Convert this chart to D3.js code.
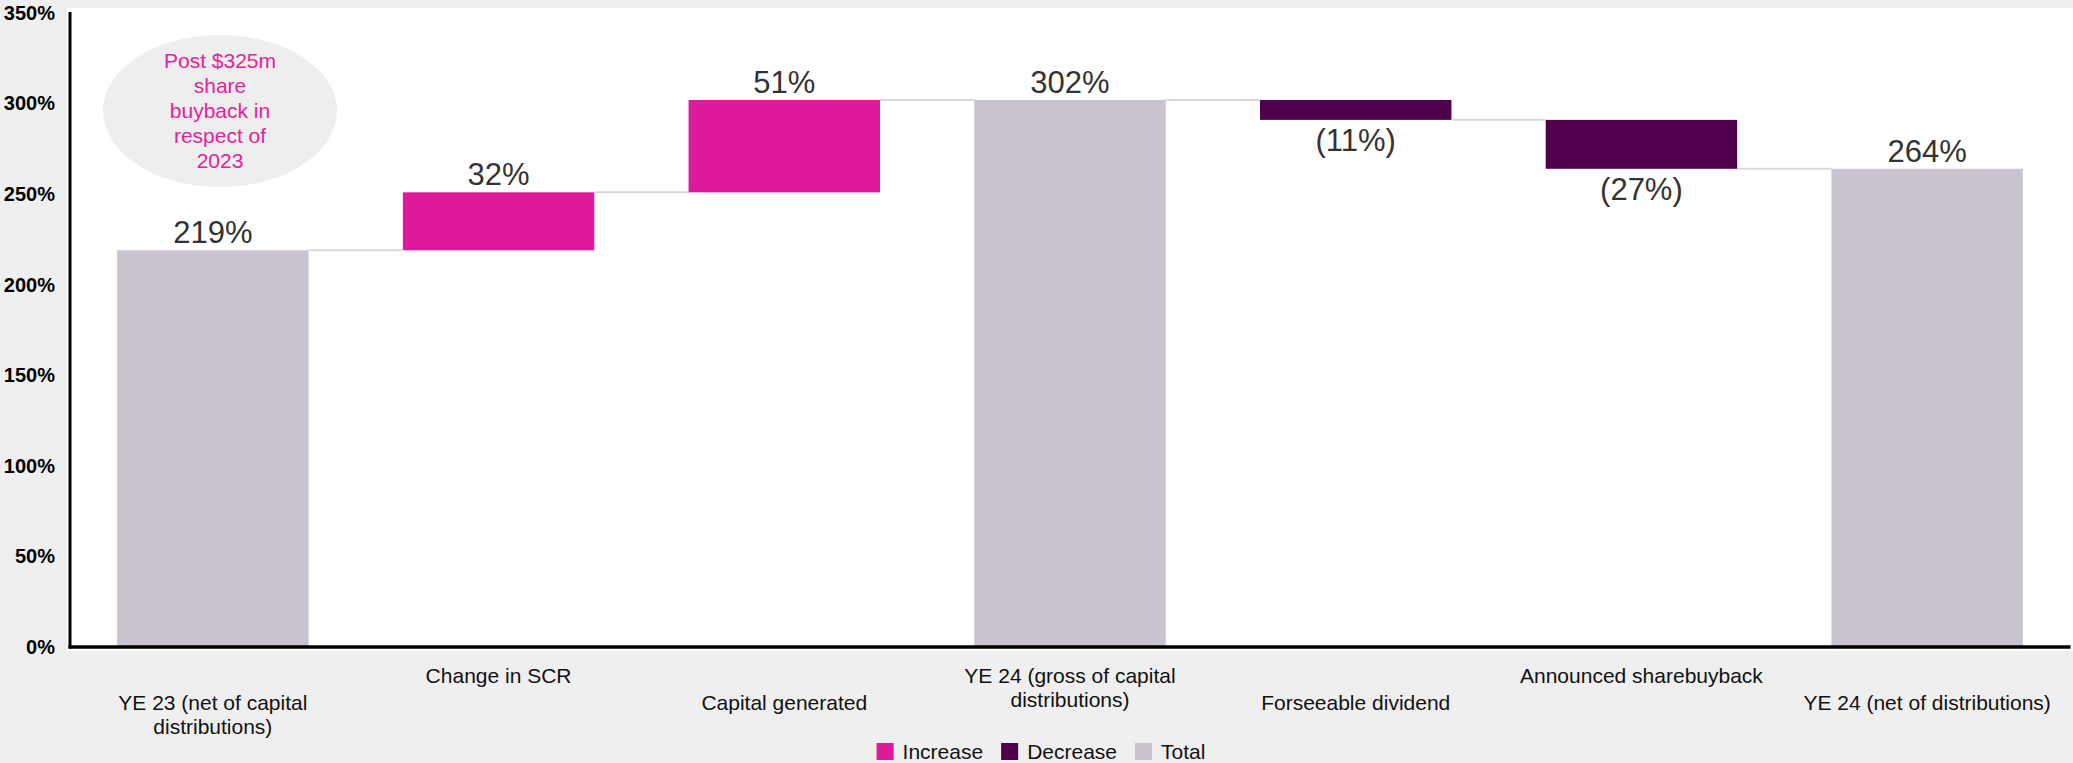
<!DOCTYPE html>
<html>
<head>
<meta charset="utf-8">
<script src="https://cdn.jsdelivr.net/npm/d3@7"></script>
<style>
  html, body { margin: 0; padding: 0; background: #efefef; }
  svg { display: block; }
  text { font-family: "Liberation Sans", Arial, sans-serif; }
</style>
</head>
<body>
<svg id="chart" width="2073" height="763"></svg>
<script>
// Solvency ratio bridge, YE 23 to YE 24
const categories = [
  "YE 23 (net of capital distributions)",
  "Change in SCR",
  "Capital generated",
  "YE 24 (gross of capital distributions)",
  "Forseeable dividend",
  "Announced sharebuyback",
  "YE 24 (net of distributions)"
];
const values = [219, 32, 51, 302, -11, -27, 264];
const kinds = ["total", "increase", "increase", "total", "decrease", "decrease", "total"];
const valueLabels = ["219%", "32%", "51%", "302%", "(11%)", "(27%)", "264%"];
const yTicks = [0, 50, 100, 150, 200, 250, 300, 350];
const legendItems = ["Increase", "Decrease", "Total"];
const noteLines = ["Post $325m", "share", "buyback in", "respect of", "2023"];

const colors = { increase: "#dc1a9a", decrease: "#4e004c", total: "#c8c3cf" };
const legendKinds = { Increase: "increase", Decrease: "decrease", Total: "total" };

const svg = d3.select("#chart");
const W = 2073, H = 763;
const mLeft = 70, mRight = 2070, mTop = 13, mBottom = 647;

// build running totals for the waterfall
let running = 0;
const bars = values.map((v, i) => {
  let start, end;
  if (kinds[i] === "total") { start = 0; end = v; }
  else { start = running; end = running + v; }
  running = end;
  return { cat: categories[i], kind: kinds[i], start, end, label: valueLabels[i], v };
});

const x = d3.scaleBand().domain(categories).range([mLeft, mRight])
  .paddingInner(0.33).paddingOuter(0.165);
const y = d3.scaleLinear().domain([0, 350]).range([mBottom, mTop]);

// plot background
svg.append("rect").attr("x", 67).attr("y", 8).attr("width", W - 67).attr("height", 651 - 8)
  .attr("fill", "#ffffff");

// connectors between consecutive bars
const conn = svg.append("g");
bars.slice(0, -1).forEach((b, i) => {
  const nxt = bars[i + 1];
  conn.append("line")
    .attr("x1", x(b.cat) + x.bandwidth())
    .attr("x2", x(nxt.cat))
    .attr("y1", y(b.end)).attr("y2", y(b.end))
    .attr("stroke", "#d9d9d9").attr("stroke-width", 2);
});

// bars
svg.append("g").selectAll("rect").data(bars).join("rect")
  .attr("x", d => x(d.cat))
  .attr("width", x.bandwidth())
  .attr("y", d => y(Math.max(d.start, d.end)))
  .attr("height", d => Math.abs(y(d.start) - y(d.end)))
  .attr("fill", d => colors[d.kind]);

// value labels
svg.append("g").selectAll("text").data(bars).join("text")
  .attr("x", d => x(d.cat) + x.bandwidth() / 2)
  .attr("y", d => d.kind === "decrease" ? y(d.end) + 31 : y(d.end) - 7)
  .attr("text-anchor", "middle")
  .attr("font-size", 31)
  .attr("fill", "#333333")
  .text(d => d.label);

// y axis
const yAxis = d3.axisLeft(y).tickValues(yTicks).tickFormat(d => d + "%").tickSize(0).tickPadding(15);
const yg = svg.append("g").attr("transform", `translate(${mLeft},0)`).call(yAxis);
yg.select(".domain").attr("stroke", "#000").attr("stroke-width", 3)
  .attr("d", `M0,${mTop - 1}V${mBottom + 1.5}`);
yg.selectAll("text").attr("font-size", 20).attr("font-weight", "bold")
  .attr("fill", "#000").attr("font-family", "Liberation Sans, Arial, sans-serif");

// x axis baseline
svg.append("line").attr("x1", mLeft - 1.5).attr("x2", mRight + 0.5)
  .attr("y1", mBottom).attr("y2", mBottom)
  .attr("stroke", "#000").attr("stroke-width", 3.5);

// category labels, staggered over two rows and wrapped
const catG = svg.append("g");
categories.forEach((c, i) => {
  const cx = x(c) + x.bandwidth() / 2;
  const y0 = i % 2 === 0 ? 710 : 683;
  const t = catG.append("text").attr("text-anchor", "middle").attr("font-size", 21)
    .attr("fill", "#111");
  const words = c.split(" ");
  let line = [];
  let lineNo = 0;
  let tspan = t.append("tspan").attr("x", cx).attr("y", y0);
  words.forEach(w => {
    line.push(w);
    tspan.text(line.join(" "));
    if (tspan.node().getComputedTextLength() > 255 && line.length > 1) {
      line.pop();
      tspan.text(line.join(" "));
      line = [w];
      lineNo++;
      tspan = t.append("tspan").attr("x", cx).attr("y", y0 + lineNo * 23.5).text(w);
    }
  });
});

// legend
const lg = svg.append("g");
let lx = 0;
legendItems.forEach(name => {
  const g = lg.append("g").attr("transform", `translate(${lx},0)`);
  g.append("rect").attr("x", 0).attr("y", 743).attr("width", 17).attr("height", 17)
    .attr("fill", colors[legendKinds[name]]);
  const t = g.append("text").attr("x", 26).attr("y", 759).attr("font-size", 21)
    .attr("fill", "#111").text(name);
  lx += 26 + t.node().getComputedTextLength() + 18;
});
const lw = lx - 18;
lg.attr("transform", `translate(${1041 - lw / 2},0)`);

// annotation bubble
svg.append("ellipse").attr("cx", 220).attr("cy", 111).attr("rx", 117).attr("ry", 76)
  .attr("fill", "#eeeeee");
const note = svg.append("text").attr("text-anchor", "middle").attr("font-size", 21)
  .attr("fill", "#e3239d");
noteLines.forEach((l, i) => {
  note.append("tspan").attr("x", 220).attr("y", 68 + i * 25).text(l);
});
</script>
</body>
</html>
